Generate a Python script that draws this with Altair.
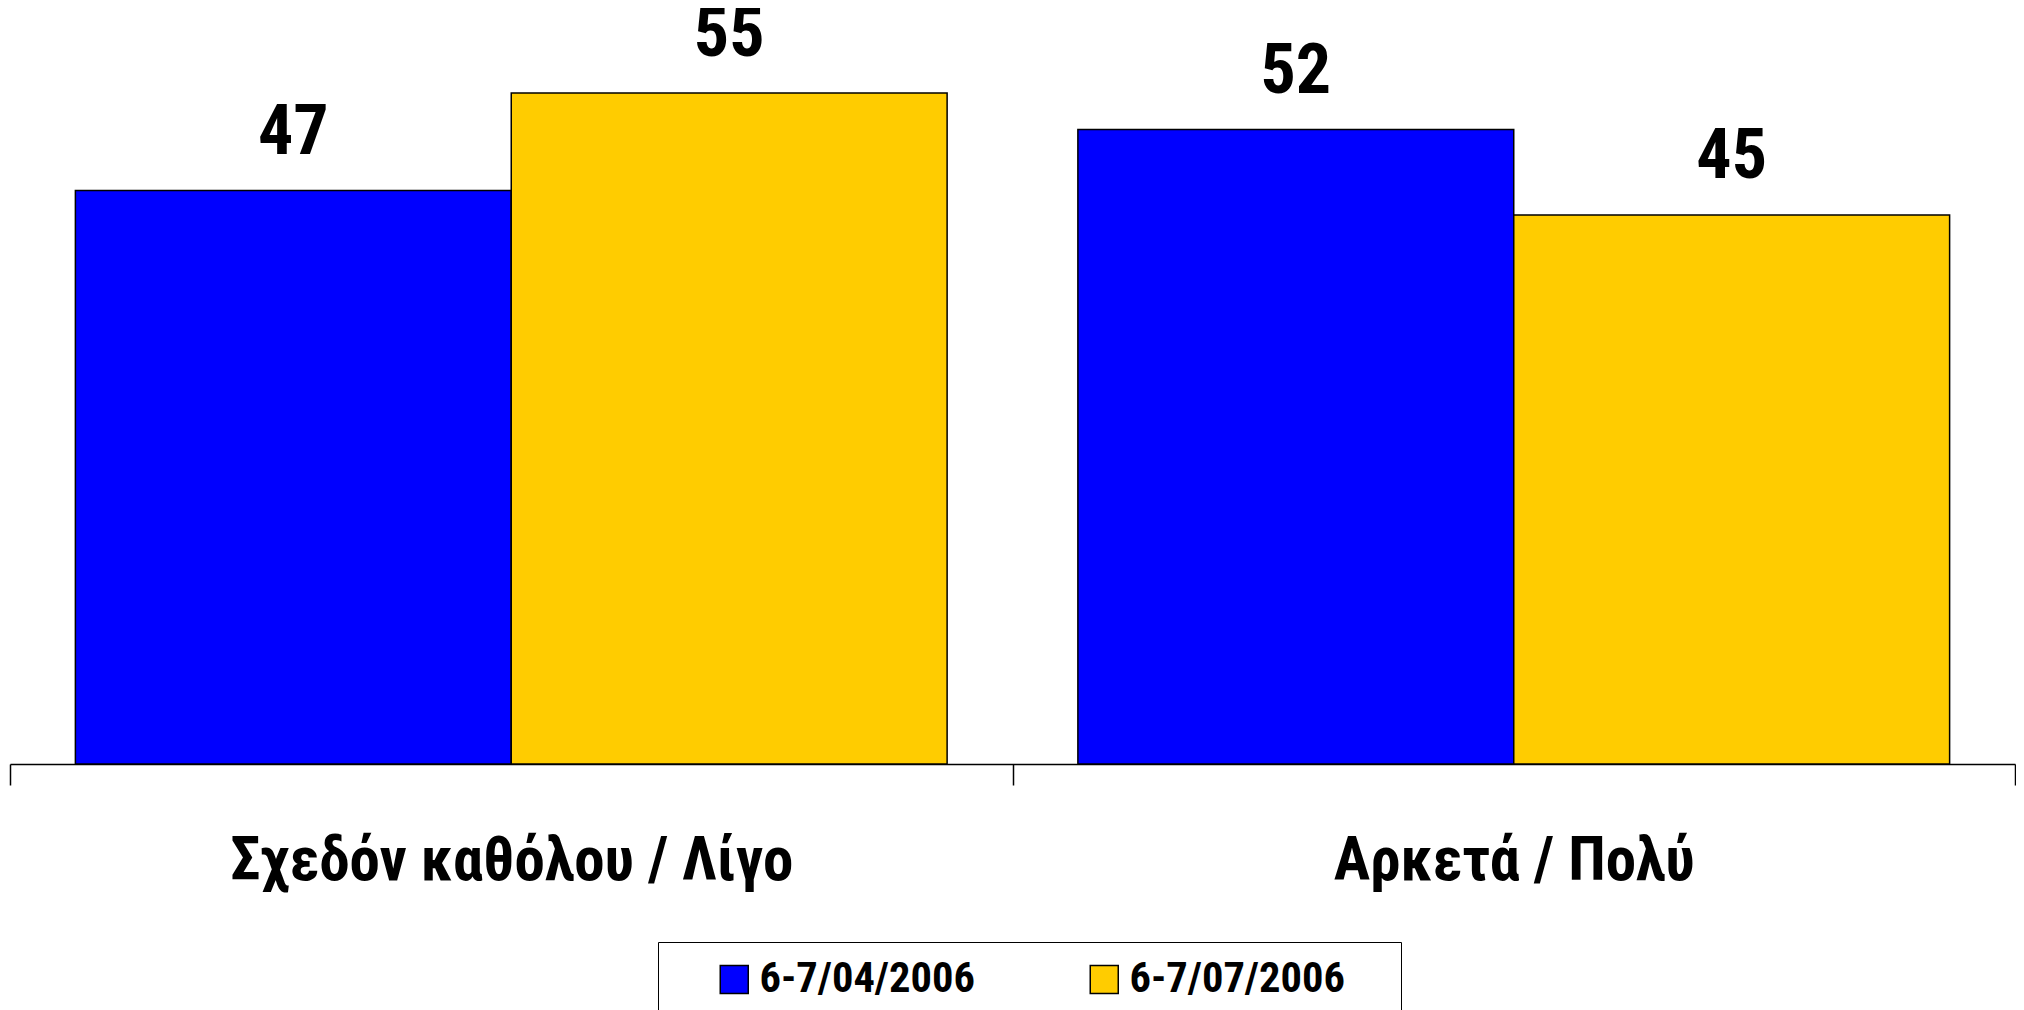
import altair as alt
import pandas as pd

categories = ["Σχεδόν καθόλου / Λίγο", "Αρκετά / Πολύ"]
series = ["6-7/04/2006", "6-7/07/2006"]
values_apr = [47, 52]
values_jul = [55, 45]
colors = ["#0000FF", "#FFCC00"]

rows = []
for i, c in enumerate(categories):
    rows.append({"cat": c, "series": series[0], "value": values_apr[i]})
    rows.append({"cat": c, "series": series[1], "value": values_jul[i]})
df = pd.DataFrame(rows)

FONT = "Roboto Condensed, Open Sans Condensed, Liberation Sans, sans-serif"

x = alt.X("cat:N", sort=categories, title=None,
          scale=alt.Scale(paddingInner=0, paddingOuter=0),
          axis=alt.Axis(labelAngle=0, labelFont=FONT, labelFontSize=61,
                        labelFontWeight="bold", labelColor="black",
                        domainColor="black", domainWidth=1.5,
                        tickColor="black", tickWidth=1.5, tickSize=21,
                        tickBand="extent", labelPadding=46, labelLimit=1000))
xo = alt.XOffset("series:N", sort=series, scale=alt.Scale(paddingInner=0, paddingOuter=0.15))
y = alt.Y("value:Q", scale=alt.Scale(domain=[0, 60], nice=False), axis=None)

bars = alt.Chart(df).mark_bar(stroke="black", strokeWidth=1.5).encode(
    x=x, xOffset=xo, y=y,
    color=alt.Color("series:N", sort=series,
                    scale=alt.Scale(domain=series, range=colors),
                    legend=alt.Legend(title=None, orient="none", legendX=648, legendY=910,
                                      direction="horizontal", columns=2,
                                      symbolType="square", symbolSize=784,
                                      symbolStrokeColor="black", symbolStrokeWidth=1.5,
                                      labelFont=FONT, labelFontSize=42.5, labelFontWeight="bold",
                                      labelColor="black", labelOffset=4, labelLimit=1000,
                                      labelExpr="datum.label + '\u00a0\u00a0\u00a0\u00a0\u200b'",
                                      columnPadding=29, padding=16, symbolOffset=39,
                                      strokeColor="black", fillColor="white"))
)

labels = alt.Chart(df).mark_text(dy=-37, baseline="alphabetic", font=FONT, fontSize=70,
                                 fontWeight="bold", color="black").encode(
    x=x, xOffset=xo, y=y, text="value:Q")

chart = (bars + labels).properties(
    width=2005, height=732,
    background="white",
    autosize=alt.AutoSizeParams(type="none"),
    padding={"left": 2, "top": 24, "right": 1, "bottom": 246},
).configure_view(strokeWidth=0, stroke="transparent")

chart.save("out.html", embed_options={"renderer": "svg", "actions": False})
